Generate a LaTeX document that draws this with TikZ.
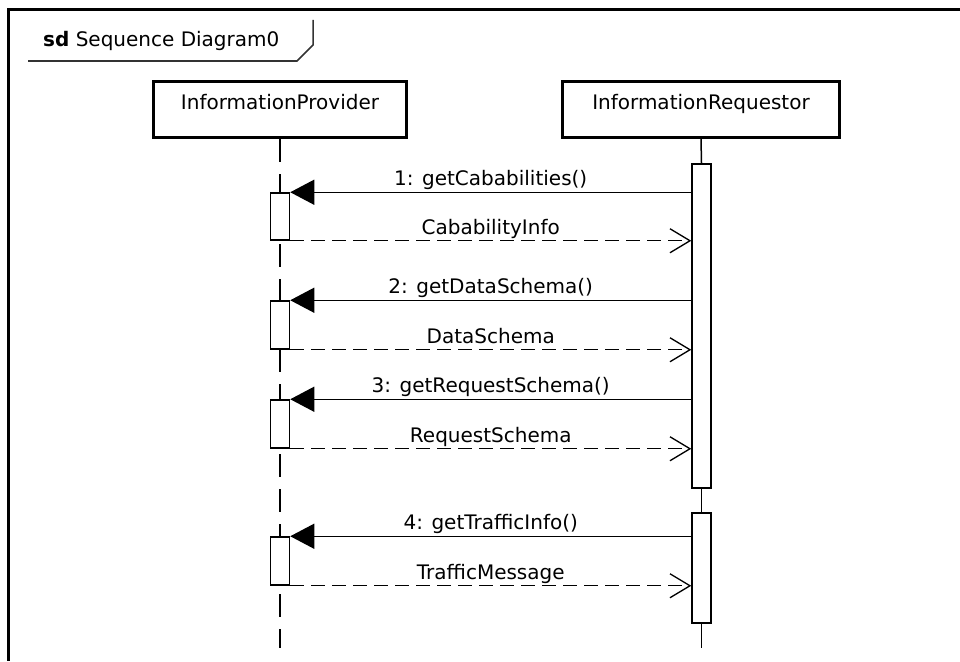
\documentclass[tikz,border=0pt]{standalone}
\usepackage{fontspec}
\setmainfont{DejaVu Sans}
\usetikzlibrary{arrows.meta}

\begin{document}
\begin{tikzpicture}[x=1pt, y=-1pt, font=\fontsize{20}{24}\selectfont]
	\tikzset{objet/.style={rectangle, draw=black, line width=3pt, minimum height=56pt, text height=12pt, text depth=12pt, inner sep=0pt},
		activ/.style={rectangle, draw=black, fill=white, line width=1.5pt, minimum width=19pt, inner sep=0pt},
		vie/.style={line width=1.5pt, dash pattern=on 23pt off 12pt},
		appel/.style={-{Triangle[length=24pt, width=25pt]}, line width=1.3pt},
		retour/.style={-{Straight Barb[length=20pt, width=24pt]}, line width=1.3pt, dash pattern=on 14pt off 7pt},
		etiq/.style={above, inner sep=1pt, text depth=5pt}};

	\useasboundingbox (0,0) rectangle (960,661);

	% cadre et onglet
	\draw[line width=3pt] (960,10) -- (8,10) -- (8,661);
	\node[anchor=base west, inner sep=0pt] (titre) at (43,47) {\textbf{sd} Sequence Diagram0};
	\draw[line width=1.5pt, black!80] (28,61) -- (297,61) -- (313,45) -- (313,20);

	% objets
	\node[objet, minimum width=253pt] (prov) at (280,109.5) {InformationProvider};
	\node[objet, minimum width=277pt] (req)  at (701,109.5) {InformationRequestor};
	\coordinate (fin) at (0,648);

	\draw[vie] (prov.south) -- (prov.south |- fin);

	% activations
	\node[activ, minimum height=47pt]  (p1) at (  280,216.5) {};
	\node[activ, minimum height=48pt]  (p2) at (  280,  325) {};
	\node[activ, minimum height=48pt]  (p3) at (  280,  424) {};
	\node[activ, minimum height=48pt]  (p4) at (  280,  561) {};
	\node[activ, minimum height=324pt] (r1) at (701.5,  326) {};
	\node[activ, minimum height=110pt] (r2) at (701.5,  568) {};

	\draw[line width=1.5pt] (req.south) -- (r1.north);
	\draw[line width=1.5pt] (r1.south) -- (r2.north);
	\draw[line width=1.5pt] (r2.south) -- (r2.south |- fin);

	% messages
	\draw[appel] (p1.north east -| r1.west) to node[etiq] {1: getCababilities()} (p1.north east);
	\draw[retour] (p1.south east) to node[etiq] {CababilityInfo} (p1.south east -| r1.west);
	\draw[appel] (p2.north east -| r1.west) to node[etiq] {2: getDataSchema()} (p2.north east);
	\draw[retour] (p2.south east) to node[etiq] {DataSchema} (p2.south east -| r1.west);
	\draw[appel] (p3.north east -| r1.west) to node[etiq] {3: getRequestSchema()} (p3.north east);
	\draw[retour] (p3.south east) to node[etiq] {RequestSchema} (p3.south east -| r1.west);
	\draw[appel] (p4.north east -| r2.west) to node[etiq] {4: getTrafficInfo()} (p4.north east);
	\draw[retour] (p4.south east) to node[etiq] {TrafficMessage} (p4.south east -| r2.west);

\end{tikzpicture}
\end{document}
